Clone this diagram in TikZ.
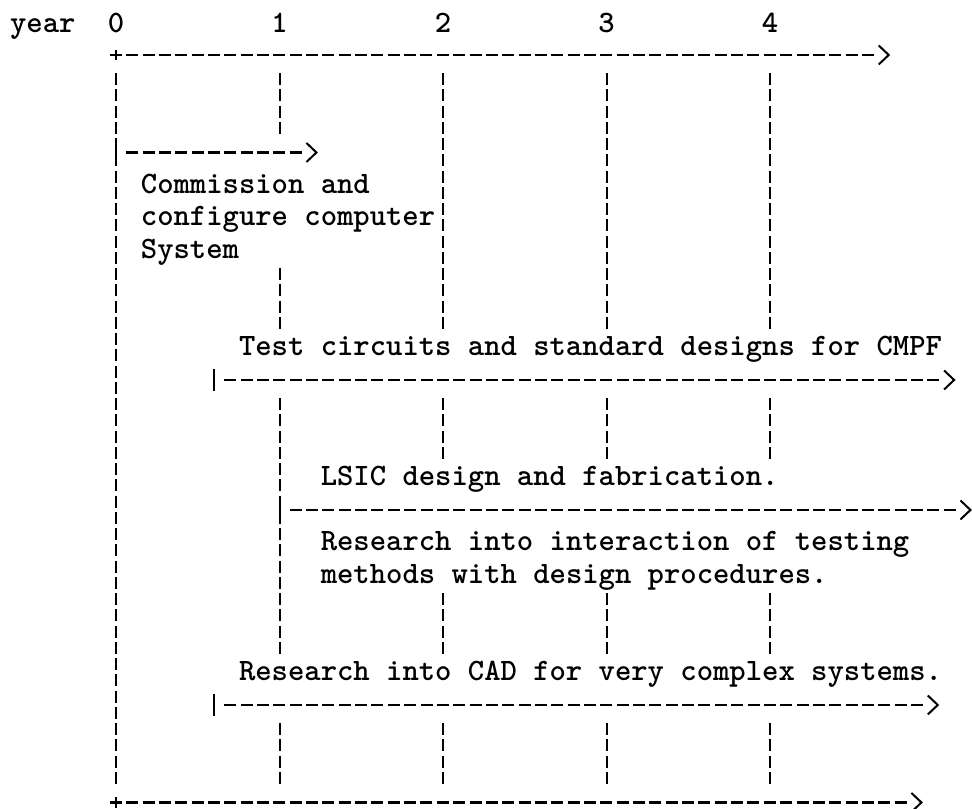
\documentclass[tikz,border=0pt]{standalone}
\usetikzlibrary{arrows.meta}

\tikzset{
    txt/.style={inner sep=0pt, anchor=base west, font=\ttfamily\bfseries\fontsize{15.57}{16.25}\selectfont},
    vbar/.style={line width=1pt, dash pattern=on 6pt off 2.125pt},
    hdash/.style={line width=1.4pt, dash pattern=on 6pt off 2.175pt},
    tick/.style={line width=1pt},
    chevron/.style={line width=1pt, -{Straight Barb[length=5pt, width=9.5pt]}},
}

% bar, dashes and chevron of one time span
\newcommand{\spanline}[2]{%
    \draw[tick] (#1) ++(0,-0.35) -- ++(0,0.7);
    \draw[hdash] ([xshift=5.1pt]#1) -- ([xshift=-6.5pt]#2);
    \draw[chevron] ([xshift=-1pt]#2) -- (#2);
}
% time axis with its plus sign
\newcommand{\axisline}[2]{%
    \draw[tick] ([yshift=-2.6pt]#1) -- ([yshift=2.6pt]#1);
    \draw[hdash] ([xshift=-3.1pt]#1) -- ([xshift=-6.5pt]#2);
    \draw[chevron] ([xshift=-1pt]#2) -- (#2);
}

\begin{document}
\begin{tikzpicture}[x=8.175pt, y=-16.25pt]
    \useasboundingbox (-7.095,-1.692) rectangle (52.355,23.2);

    \node[txt] (year) at (-6.5,-0.7) {year};
    \foreach \n in {0,...,4}
        \node[txt, anchor=base] (yr\n) at (10*\n,-0.7) {\n};

    % time axes
    \coordinate (top0) at (0,0);
    \coordinate (top1) at (47.35,0);
    \coordinate (bot0) at (0,23);
    \coordinate (bot1) at (49.35,23);
    \axisline{top0}{top1}
    \axisline{bot0}{bot1}

    % year lines
    \draw[vbar] (0,0.56) -- (0,22.44);
    \foreach \a/\b in {1/2,7/8,11/18,21/22}
        \draw[vbar] (10,\a-0.44) -- (10,\b+0.44);
    \foreach \x in {20,30,40}
        \foreach \a/\b in {1/8,11/12,17/18,21/22}
            \draw[vbar] (\x,\a-0.44) -- (\x,\b+0.44);

    % tasks
    \coordinate (comm0) at (0,3);
    \coordinate (comm1) at (12.35,3);
    \spanline{comm0}{comm1}
    \node[txt] (comm a) at (1.5,4.25) {Commission and};
    \node[txt] (comm b) at (1.5,5.25) {configure computer};
    \node[txt] (comm c) at (1.5,6.25) {System};

    \node[txt] (cmpf) at (7.5,9.25) {Test circuits and standard designs for CMPF};
    \coordinate (cmpf0) at (6,10);
    \coordinate (cmpf1) at (51.35,10);
    \spanline{cmpf0}{cmpf1}

    \node[txt] (lsic) at (12.5,13.25) {LSIC design and fabrication.};
    \coordinate (lsic0) at (10,14);
    \coordinate (lsic1) at (52.35,14);
    \spanline{lsic0}{lsic1}
    \node[txt] (test a) at (12.5,15.25) {Research into interaction of testing};
    \node[txt] (test b) at (12.5,16.25) {methods with design procedures.};

    \node[txt] (cad) at (7.5,19.25) {Research into CAD for very complex systems.};
    \coordinate (cad0) at (6,20);
    \coordinate (cad1) at (50.35,20);
    \spanline{cad0}{cad1}
\end{tikzpicture}
\end{document}
